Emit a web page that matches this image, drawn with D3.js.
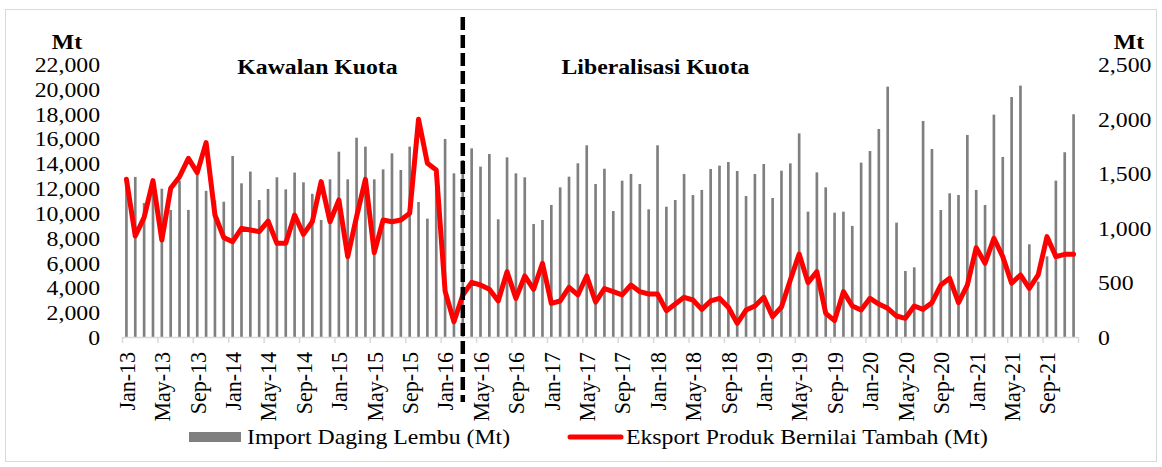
<!DOCTYPE html>
<html>
<head>
<meta charset="utf-8">
<style>
  body { margin: 0; background: #fff; }
  svg text { font-family: "Liberation Serif", "Times New Roman", serif; fill: #000; }
</style>
<script src="https://d3js.org/d3.v7.min.js"></script>
</head>
<body>
<svg id="chart" width="1162" height="467"></svg>
<script>
// monthly categories Jan-13 .. Dec-21
const years = ['13', '14', '15', '16', '17', '18', '19', '20', '21'];
const monthNames = ['Jan', 'Feb', 'Mar', 'Apr', 'May', 'Jun', 'Jul', 'Aug', 'Sep', 'Oct', 'Nov', 'Dec'];
const months = [];
years.forEach(y => monthNames.forEach(m => months.push(m + '-' + y)));

// Import Daging Lembu (Mt), left axis
const importData = [
  12700, 12900, 10800, 12000, 11950, 10240, 12600, 10240, 13180, 11780, 11000, 10900,
  14590, 12385, 13330, 11040, 11930, 12870, 11900, 13250, 12465, 11540, 9430, 12706,
  14935, 12706, 16060, 15340, 12706, 13510, 14800, 13460, 15340, 10880, 9540, 12500,
  15960, 13190, 14265, 15200, 13730, 14750, 9485, 14480, 13190, 12870, 9110, 9430,
  10640, 12060, 12920, 14000, 15450, 12330, 13560, 10150, 12600, 13140, 12330, 10290,
  15450, 10500, 11040, 13140, 11440, 11850, 13540, 13810, 14100, 13380, 11360, 13140,
  13940, 11200, 13400, 13990, 16410, 10100, 13270, 12060, 10020, 10100, 8950, 14050,
  14990, 16765, 20175, 9215, 5320, 5615, 17410, 15150, 10236, 11580, 11445, 16280,
  11850, 10640, 17920, 14510, 19340, 20260, 7470, 4460, 6500, 12600, 14890, 17950
];

// Eksport Produk Bernilai Tambah (Mt), right axis
const exportData = [
  1444, 925, 1096, 1432, 888, 1362, 1468, 1636, 1505, 1780, 1117, 910,
  873, 995, 980, 965, 1062, 858, 858, 1117, 940, 1056, 1423, 1056,
  1255, 736, 1102, 1444, 772, 1072, 1056, 1072, 1133, 1994, 1591, 1530,
  420, 140, 385, 500, 476, 437, 330, 598, 354, 559, 437, 675,
  308, 330, 455, 385, 559, 320, 443, 415, 385, 476, 415, 394,
  394, 241, 302, 363, 339, 253, 330, 354, 272, 125, 247, 284,
  363, 186, 275, 522, 760, 498, 598, 217, 150, 415, 284, 247,
  354, 302, 263, 192, 171, 284, 253, 314, 476, 537, 314, 476,
  818, 675, 904, 736, 492, 568, 446, 568, 919, 736, 757, 757
];

const leftTicks = [0, 2000, 4000, 6000, 8000, 10000, 12000, 14000, 16000, 18000, 20000, 22000];
const rightTicks = [0, 500, 1000, 1500, 2000, 2500];
const periodLabels = ['Kawalan Kuota', 'Liberalisasi Kuota'];
const splitMonth = 'Mar-16';
const legendLabels = ['Import Daging Lembu (Mt)', 'Eksport Produk Bernilai Tambah (Mt)'];

const S = 1.08; // slight horizontal stretch of the text, as in the picture
const FS = '22px';
const fmt = d3.format(',');

const svg = d3.select('#chart');

svg.append('rect')
    .attr('x', 5.5).attr('y', 9.5)
    .attr('width', 1151).attr('height', 452)
    .attr('fill', '#fff')
    .attr('stroke', '#d9d9d9');

const x = d3.scaleBand()
    .domain(months)
    .range([122, 1078])
    .paddingInner(0.7)
    .paddingOuter(0.35);
const cx = m => x(m) + x.bandwidth() / 2;

const yL = d3.scaleLinear().domain([0, 22000]).range([337, 64]);
const yR = d3.scaleLinear().domain([0, 2500]).range([337, 64]);

// bars
svg.append('g')
  .selectAll('rect')
  .data(importData)
  .join('rect')
    .attr('x', (d, i) => x(months[i]))
    .attr('width', x.bandwidth())
    .attr('y', d => yL(d))
    .attr('height', d => yL(0) - yL(d))
    .attr('fill', '#7f7f7f');

// x axis line + ticks every 4 months at category edges
const xEdge = d3.scaleLinear().domain([0, months.length]).range([122, 1078]);
const xAxis = svg.append('g')
    .attr('transform', 'translate(0,' + yL(0) + ')')
    .call(d3.axisBottom(xEdge)
        .tickValues(d3.range(0, months.length + 1, 4))
        .tickSize(6)
        .tickSizeOuter(0)
        .tickFormat(''));
xAxis.selectAll('path, line').attr('stroke', '#d9d9d9').attr('stroke-width', 1.5);

// month labels
svg.append('g')
  .selectAll('text')
  .data(months.filter((m, i) => i % 4 === 0))
  .join('text')
    .attr('transform', m => 'translate(' + cx(m) + ',352) scale(' + S + ',1) rotate(-90)')
    .attr('dy', '0.35em')
    .attr('text-anchor', 'end')
    .style('font-size', FS)
    .text(m => m);

// line
const line = d3.line()
    .x((d, i) => cx(months[i]))
    .y(d => yR(d));
svg.append('path')
    .datum(exportData)
    .attr('d', line)
    .attr('fill', 'none')
    .attr('stroke', '#ff0000')
    .attr('stroke-width', 5)
    .attr('stroke-linejoin', 'round')
    .attr('stroke-linecap', 'round');

// left axis
const left = svg.append('g').attr('transform', 'translate(100,0)')
    .call(d3.axisLeft(yL).tickValues(leftTicks).tickSize(0).tickFormat(fmt));
left.select('.domain').remove();
left.selectAll('text')
    .attr('x', 0).attr('dy', '0.34em')
    .attr('transform', 'scale(' + S + ',1)')
    .style('font-size', FS)
    .style('font-family', '"Liberation Serif", serif');

// right axis
const right = svg.append('g').attr('transform', 'translate(1098,0)')
    .call(d3.axisRight(yR).tickValues(rightTicks).tickSize(0).tickFormat(fmt));
right.select('.domain').remove();
right.selectAll('text')
    .attr('x', 0).attr('dy', '0.34em')
    .attr('transform', 'scale(' + S + ',1)')
    .style('font-size', FS)
    .style('font-family', '"Liberation Serif", serif');

// units
[[67, 'Mt'], [1129, 'Mt']].forEach(([ux, t]) => {
  svg.append('text')
      .attr('transform', 'translate(' + ux + ',49) scale(' + S + ',1)')
      .attr('text-anchor', 'middle')
      .style('font-size', FS)
      .style('font-weight', 'bold')
      .text(t);
});

// period titles
[[317.5, periodLabels[0]], [655.5, periodLabels[1]]].forEach(([tx, t]) => {
  svg.append('text')
      .attr('transform', 'translate(' + tx + ',74) scale(' + S + ',1)')
      .attr('text-anchor', 'middle')
      .style('font-size', FS)
      .style('font-weight', 'bold')
      .text(t);
});

// dashed split line
svg.append('line')
    .attr('x1', cx(splitMonth)).attr('x2', cx(splitMonth))
    .attr('y1', 17).attr('y2', 402)
    .attr('stroke', '#000')
    .attr('stroke-width', 4.5)
    .attr('stroke-dasharray', '13,5');

// legend
const lg = svg.append('g');
lg.append('rect')
    .attr('x', 189).attr('y', 432)
    .attr('width', 52).attr('height', 10)
    .attr('fill', '#7f7f7f');
lg.append('text')
    .attr('transform', 'translate(247,437) scale(' + S + ',1)')
    .attr('dy', '0.34em')
    .style('font-size', FS)
    .text(legendLabels[0]);
lg.append('line')
    .attr('x1', 570).attr('x2', 621)
    .attr('y1', 437).attr('y2', 437)
    .attr('stroke', '#ff0000')
    .attr('stroke-width', 5)
    .attr('stroke-linecap', 'round');
lg.append('text')
    .attr('transform', 'translate(626,437) scale(' + S + ',1)')
    .attr('dy', '0.34em')
    .style('font-size', FS)
    .text(legendLabels[1]);
</script>
</body>
</html>
